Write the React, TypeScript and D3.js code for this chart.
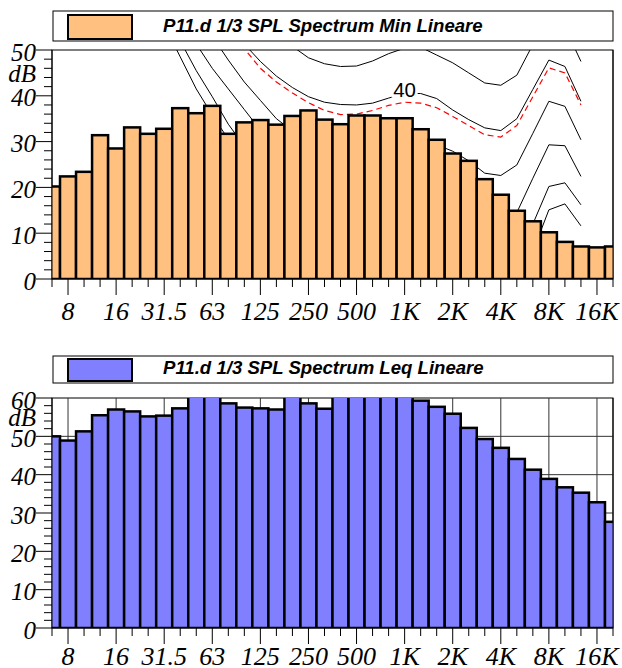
import React from "react";
import * as d3 from "d3";

// 1/3-octave band centres (index 0..35)
const bands = ["6.3","8","10","12.5","16","20","25","31.5","40","50","63","80","100","125","160","200","250","315","400","500","630","800","1K","1.25K","1.6K","2K","2.5K","3.15K","4K","5K","6.3K","8K","10K","12.5K","16K","20K"];
const tickLabels = ["8","16","31.5","63","125","250","500","1K","2K","4K","8K","16K"];

const minValues = [20.2,22.4,23.4,31.4,28.5,33.1,31.7,32.8,37.3,36.2,37.8,31.7,34.2,34.7,33.7,35.6,36.8,34.8,33.8,35.7,35.7,35.1,35.1,32.7,30.4,27.4,25.8,21.8,18.4,14.9,12.6,10.2,8.1,7.1,6.9,7.1];
const leqValues = [50.0,48.9,51.3,55.5,57.0,56.5,55.2,55.4,57.3,62,63,58.6,57.5,57.3,57.0,61,58.6,57.2,62,63,64,63,61,59.3,57.7,55.9,52.2,49.3,47.0,44.1,41.3,38.9,36.7,35.3,32.8,27.7];

// contour curves, values at bands 5 (20 Hz) .. 33 (12.5 kHz)
const contourStart = 5;
const curve0 = [72,63.5,55.5,48.5,41.5,35.8,30.5,26,22,18,14.5,11.5,8.8,6.5,5,3.8,3,3,3.8,2.5,0,-2.5,-4.5,-4,-1,6,15.1,16.4,11.6];
const curve10 = [76,67,59,52,45.5,39.8,33.8,29,25,21.5,18.5,16,14,12.5,11.5,11,10.5,10.2,10.5,10,8.5,6,4,3.5,5.5,12,20.2,21,16.2];
const curve20 = [82,73,64.5,57.5,51.3,46,41.5,37,32.5,28.5,25.5,23,21.5,20.5,20,19.8,19.8,20,20.2,19.8,18.2,15.8,13.5,12.5,14.5,22,29.3,29.1,22.4];
const curve30 = [88,79,71,64,58,53,47.8,43,39,35,32.3,30.5,29.5,29,28.8,28.8,29,29.5,29.8,29.3,27.9,25.8,23.1,22.6,24.9,31.8,38.8,37.7,30.4];
const curve40 = [96,87,79,72,65.5,60,55.5,51.3,47.5,44.3,41.8,39.8,38.6,38.1,38.0,38.4,39.5,40.5,40.5,39.4,36.9,34.8,33.0,32.4,35.0,41.4,47.8,46.4,38.8];
const curve50 = [102,94,87,81,75.5,70.5,66,62,58.5,54,50.8,48.3,47,46.4,46.5,47.6,49.2,50.4,50.6,48.9,47.2,45,42.8,42.3,44.5,51.2,57.5,55,47.5];
const curveRed = [95,86,78,71,65,60,55,50.3,46,43,40.6,38.5,36.8,35.9,36.0,36.8,37.9,38.6,38.4,37.4,35.5,33.5,31.5,31.0,33.5,39.8,46.1,45.0,38.0];
const blackCurves = [curve0, curve10, curve20, curve30, curve40, curve50];
const curveLabel = "40";
const curveLabelBand = 22;
const curveLabelDb = 41.3;

const X0 = 52, X1 = 613;
const x = d3.scaleLinear().domain([0, bands.length - 1]).range([X0, X1]);
const bw = x(1) - x(0);

const serif = "'Liberation Serif', 'Times New Roman', serif";
const sans = "'Liberation Sans', Arial, sans-serif";

type PanelProps = {
  id: string;
  top: number;
  bottom: number;
  max: number;
  values: number[];
  fill: string;
  title: string;
  legendY0: number;
  legendY1: number;
  swatchY0: number;
  swatchY1: number;
  textY: number;
  labelOffset: number;
  grid: boolean;
  contours: boolean;
};

function Panel(p: PanelProps) {
  const y = d3.scaleLinear().domain([0, p.max]).range([p.bottom, p.top]);
  const majors = d3.range(0, p.max + 1, 10);
  const minors = d3.range(0, p.max + 1, 2).filter((v) => v % 10 !== 0);
  const line = d3
    .line<number>()
    .x((_, i) => x(i + contourStart))
    .y((d) => y(d));
  const clip = `clip-${p.id}`;
  return (
    <g>
      <defs>
        <clipPath id={clip}>
          <rect x={X0} y={p.top} width={X1 - X0} height={p.bottom - p.top} />
        </clipPath>
      </defs>
      {/* legend */}
      <rect x={53} y={p.legendY0} width={560} height={p.legendY1 - p.legendY0} fill="#fff" stroke="#000" strokeWidth={1} />
      <rect x={68} y={p.swatchY0} width={64} height={p.swatchY1 - p.swatchY0} fill={p.fill} stroke="#000" strokeWidth={2} />
      <text x={163} y={p.textY} fontFamily={sans} fontWeight="bold" fontStyle="italic" fontSize={18.6} fill="#000">
        {p.title}
      </text>
      {/* plot background / frame */}
      <rect x={X0} y={p.top} width={X1 - X0} height={p.bottom - p.top} fill="#fff" stroke="#000" strokeWidth={1} />
      {p.grid && (
        <g stroke="#333" strokeWidth={1}>
          {bands.map((b, i) =>
            tickLabels.includes(b) ? <line key={b} x1={x(i)} x2={x(i)} y1={p.top} y2={p.bottom} /> : null
          )}
          {majors.filter((v) => v > 0 && v < p.max).map((v) => (
            <line key={v} x1={X0} x2={X1} y1={y(v)} y2={y(v)} />
          ))}
        </g>
      )}
      <g clipPath={`url(#${clip})`}>
        {p.contours && (
          <g fill="none">
            {blackCurves.map((c, k) => (
              <path key={k} d={line(c) || ""} stroke="#000" strokeWidth={1} />
            ))}
            <path d={line(curveRed) || ""} stroke="#ff0000" strokeWidth={1.2} strokeDasharray="6,4" />
            <rect
              x={x(curveLabelBand) - 13}
              y={y(curveLabelDb) - 11}
              width={26}
              height={19}
              fill="#fff"
            />
            <text
              x={x(curveLabelBand)}
              y={y(curveLabelDb) + 7.5}
              textAnchor="middle"
              fontFamily={sans}
              fontSize={20.5}
              fill="#000"
            >
              {curveLabel}
            </text>
          </g>
        )}
        {p.values.map((v, i) => (
          <rect
            key={i}
            x={x(i) - bw / 2}
            width={bw}
            y={y(v)}
            height={p.bottom - y(v)}
            fill={p.fill}
            stroke="#000"
            strokeWidth={2.5}
          />
        ))}
      </g>
      {/* frame edges on top */}
      <line x1={X0} x2={X0} y1={p.top} y2={p.bottom} stroke="#000" strokeWidth={1} />
      <line x1={X0} x2={X1} y1={p.bottom} y2={p.bottom} stroke="#000" strokeWidth={1} />
      <line x1={X1} x2={X1} y1={p.top} y2={p.bottom} stroke="#000" strokeWidth={1} />
      {/* y ticks */}
      <g stroke="#000" strokeWidth={1}>
        {majors.map((v) => (
          <line key={v} x1={X0 - 16} x2={X0} y1={y(v)} y2={y(v)} />
        ))}
        {minors.map((v) => (
          <line key={v} x1={X0 - 8} x2={X0} y1={y(v)} y2={y(v)} />
        ))}
      </g>
      {majors.map((v) => (
        <text key={v} x={36} y={y(v)} dy="0.42em" textAnchor="end" fontFamily={serif} fontStyle="italic" fontSize={25} fill="#000">
          {v}
        </text>
      ))}
      <text x={36} y={y(p.max - 5)} dy="0.35em" textAnchor="end" fontFamily={serif} fontStyle="italic" fontSize={25} fill="#000">
        dB
      </text>
      {/* x ticks */}
      <g stroke="#000" strokeWidth={1}>
        {bands.map((b, i) => (
          <line key={b} x1={x(i)} x2={x(i)} y1={p.bottom} y2={p.bottom + (tickLabels.includes(b) ? 16 : 8)} />
        ))}
      </g>
      {bands.map((b, i) =>
        tickLabels.includes(b) ? (
          <text key={b} x={x(i)} y={p.bottom + p.labelOffset} textAnchor="middle" fontFamily={serif} fontStyle="italic" fontSize={26} fill="#000">
            {b}
          </text>
        ) : null
      )}
    </g>
  );
}

export default function App() {
  return (
    <div style={{ position: "absolute", left: 0, top: 0 }}>
      <svg width={622} height={668} style={{ display: "block", background: "#fff" }}>
        <Panel
          id="min"
          top={50}
          bottom={279}
          max={50}
          values={minValues}
          fill="#FFC080"
          title="P11.d 1/3 SPL Spectrum Min Lineare"
          legendY0={11}
          legendY1={41}
          swatchY0={15}
          swatchY1={39}
          textY={32}
          labelOffset={41}
          grid={false}
          contours={true}
        />
        <Panel
          id="leq"
          top={398}
          bottom={628}
          max={60}
          values={leqValues}
          fill="#8080FF"
          title="P11.d 1/3 SPL Spectrum Leq Lineare"
          legendY0={356}
          legendY1={383}
          swatchY0={359}
          swatchY1={381}
          textY={374}
          labelOffset={37}
          grid={true}
          contours={false}
        />
      </svg>
    </div>
  );
}
